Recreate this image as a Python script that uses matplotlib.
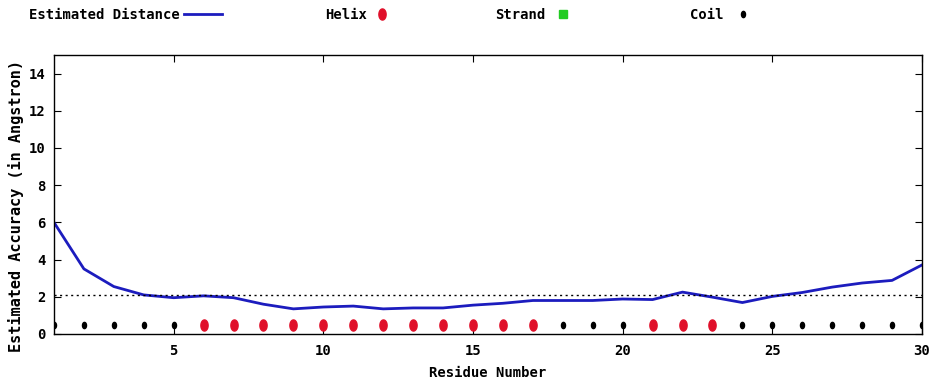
import matplotlib
matplotlib.use("Agg")
import matplotlib.pyplot as plt
from matplotlib.lines import Line2D
from matplotlib.path import Path
import numpy as np

# Per-residue estimated distance error (Angstrom)
residues = list(range(1, 31))
est_distance = [6.0, 3.5, 2.55, 2.1, 1.95, 2.05, 1.95, 1.6, 1.35, 1.45,
                1.5, 1.35, 1.4, 1.4, 1.55, 1.65, 1.8, 1.8, 1.8, 1.88,
                1.85, 2.25, 1.98, 1.69, 2.02, 2.23, 2.52, 2.74, 2.88, 3.71]
mean_level = 2.1

# Secondary structure assignment per residue
helix_res = [6, 7, 8, 9, 10, 11, 12, 13, 14, 15, 16, 17, 21, 22, 23]
strand_res = []
coil_res = [1, 2, 3, 4, 5, 18, 19, 20, 24, 25, 26, 27, 28, 29, 30]
ss_level = 0.5

xticks = [5, 10, 15, 20, 25, 30]
yticks = [0, 2, 4, 6, 8, 10, 12, 14]

font = {"family": "DejaVu Sans Mono", "weight": "bold", "size": 10}
yfont = dict(font, size=11)

# Upright oval point symbol
t = np.linspace(0, 2 * np.pi, 40)
oval = Path(np.column_stack([0.65 * np.cos(t), np.sin(t)]), closed=True)

fig = plt.figure(figsize=(9.5, 3.87), dpi=100)
ax = fig.add_axes([0.0568, 0.137, 0.9137, 0.721])

blue = "#1c1cbe"
red = "#e0102a"
green = "#22cc22"

ax.plot(residues, est_distance, color=blue, lw=2.0, solid_joinstyle="round")
ax.axhline(mean_level, color="black", lw=1.0, ls=(0, (1.5, 2.5)))
ax.plot(helix_res, [ss_level] * len(helix_res), ls="none", marker=oval,
        ms=8, color=red)
ax.plot(strand_res, [ss_level] * len(strand_res), ls="none", marker="s",
        ms=6, color=green)
ax.plot(coil_res, [ss_level] * len(coil_res), ls="none", marker=oval,
        ms=4.5, color="black")

ax.set_xlim(1, 30)
ax.set_ylim(0, 15)
ax.set_xticks(xticks)
ax.set_yticks(yticks)
ax.tick_params(direction="in", top=True, right=True, length=5, width=0.8)
ax.tick_params(axis="x", pad=7)
ax.tick_params(axis="y", pad=6)
for lbl in ax.get_xticklabels() + ax.get_yticklabels():
    lbl.set_fontproperties(font)
for sp in ax.spines.values():
    sp.set_linewidth(1.0)

ax.set_xlabel("Residue Number", fontdict=font, labelpad=6)
ax.set_ylabel("Estimated Accuracy (in Angstron)", fontdict=yfont)
ax.yaxis.set_label_coords(-0.034, 0.46)

# Key across the top of the figure
entries = [
    (Line2D([], [], color=blue, lw=2), "Estimated Distance", 0.031, 2.7, 0.3),
    (Line2D([], [], ls="none", marker=oval, ms=8, color=red), "Helix", 0.342, 1.0, 0.6),
    (Line2D([], [], ls="none", marker="s", ms=6, color=green), "Strand", 0.521, 1.0, 0.8),
    (Line2D([], [], ls="none", marker=oval, ms=4.5, color="black"), "Coil", 0.726, 1.0, 0.9),
]
for handle, label, xpos, hlen, hpad in entries:
    fig.legend([handle], [label], loc="center left", bbox_to_anchor=(xpos, 0.961),
               frameon=False, markerfirst=False, prop=font,
               handlelength=hlen, handletextpad=hpad,
               borderpad=0, borderaxespad=0)

fig.savefig("out.png", dpi=100)
